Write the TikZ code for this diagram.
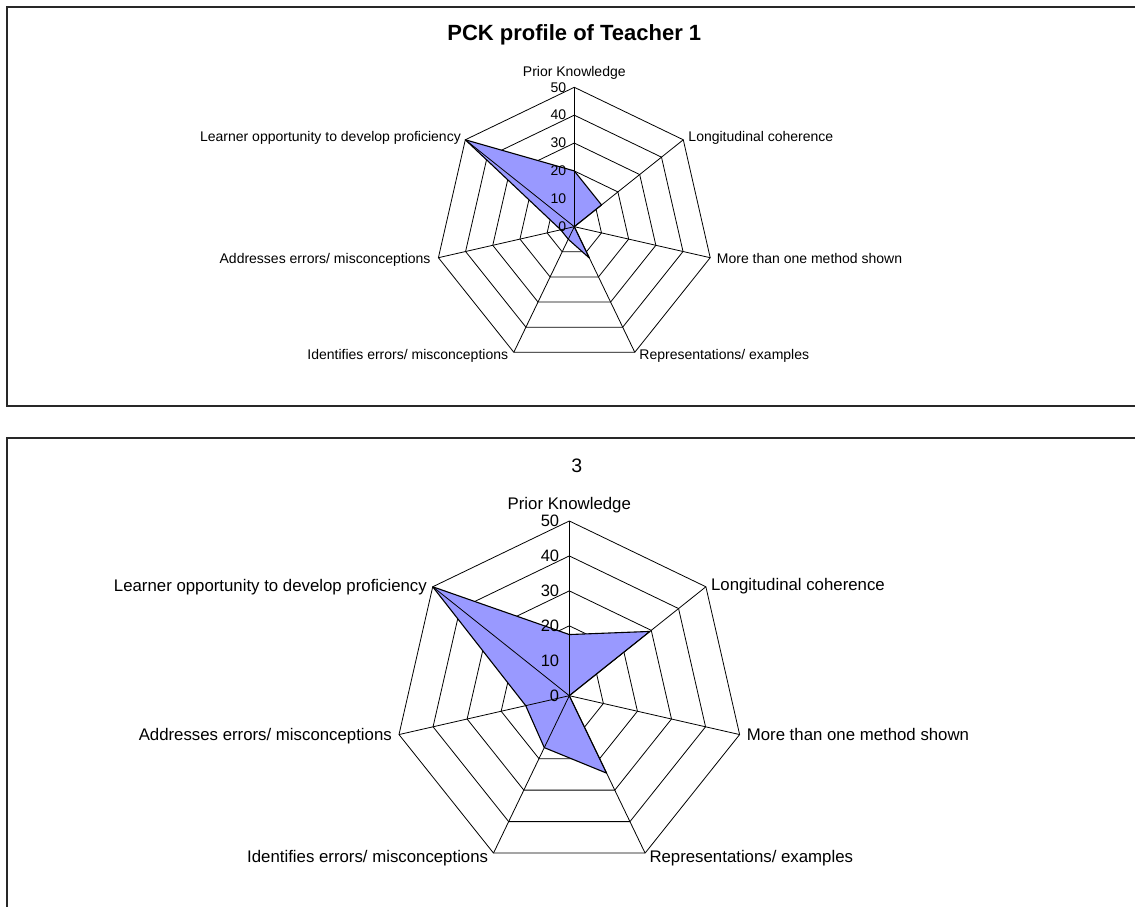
\documentclass[tikz,border=0pt]{standalone}
\usepackage{fontspec}
\setmainfont{Liberation Sans}
\definecolor{serieblue}{RGB}{153,153,255}
\definecolor{framegray}{RGB}{40,40,40}
\begin{document}
\begin{tikzpicture}[x=1pt,y=1pt,
  gridline/.style={black, line width=0.8pt},
  series/.style={fill=serieblue, draw=black, line width=1.1pt, line join=round},
  frameline/.style={draw=framegray, line width=2pt},
  labA/.style={inner sep=0pt, font=\fontsize{14}{16}\selectfont},
  labB/.style={inner sep=0pt, font=\fontsize{16.8}{19}\selectfont},
  numA/.style={inner sep=0pt, anchor=east, font=\fontsize{14}{16}\selectfont},
  numB/.style={inner sep=0pt, anchor=east, font=\fontsize{16.5}{19}\selectfont},
]
\useasboundingbox (0,0) rectangle (1135,907);
\fill[white] (0,0) rectangle (1135,907);
% frames
\draw[frameline] (1140,899.7) -- (6.5,899.7) -- (6.5,501) -- (1140,501);
\draw[frameline] (1140,469.3) -- (6.5,469.3) -- (6.5,-5);

% ---------- chart 1 ----------
\node[font=\bfseries\fontsize{22}{26}\selectfont, inner sep=0pt] (title1) at (574.3,872) {PCK profile of Teacher 1};
\begin{scope}[shift={(574.3pt,680.3pt)}, x=2.788pt, y=2.788pt]
  \foreach \r in {10,20,...,50}
    \draw[gridline] (90:\r) \foreach \k in {1,...,6}{ -- (90-\k*360/7:\r)} -- cycle;
  \filldraw[series] (90:20) -- (90-360/7:12.5) -- (0,0) -- (90-3*360/7:12.5)
     -- (90-4*360/7:5) -- (90-5*360/7:5) -- (90-6*360/7:50) -- cycle;
  \foreach \k in {0,...,6}
    \draw[gridline] (0,0) -- (90-\k*360/7:50) coordinate (a\k);
  \foreach \v in {0,10,...,50}
    \node[numA] (an\v) at ([xshift=-8pt]0,\v) {\v};
  \node[labA, anchor=base] (al0) at ([yshift=10.6pt]a0) {Prior Knowledge};
  \node[labA, anchor=base west] (al1) at ([xshift=5pt,yshift=-1.9pt]a1) {Longitudinal coherence};
  \node[labA, anchor=base west] (al2) at ([xshift=6.5pt,yshift=-5.6pt]a2) {More than one method shown};
  \node[labA, anchor=base west] (al3) at ([xshift=4.5pt,yshift=-7.7pt]a3) {Representations/ examples};
  \node[labA, anchor=base east] (al4) at ([xshift=-5.5pt,yshift=-7.7pt]a4) {Identifies errors/ misconceptions};
  \node[labA, anchor=base east] (al5) at ([xshift=-7.7pt,yshift=-5.6pt]a5) {Addresses errors/ misconceptions};
  \node[labA, anchor=base east] (al6) at ([xshift=-4.3pt,yshift=-1.9pt]a6) {Learner opportunity to develop proficiency};
\end{scope}

% ---------- chart 2 ----------
\node[font=\fontsize{19.5}{23}\selectfont, inner sep=0pt] (title2) at (576.7,441.3) {3};
\begin{scope}[shift={(569.3pt,211.3pt)}, x=3.494pt, y=3.494pt]
  \foreach \r in {10,20,...,50}
    \draw[gridline] (90:\r) \foreach \k in {1,...,6}{ -- (90-\k*360/7:\r)} -- cycle;
  \filldraw[series] (90:17.5) -- (90-360/7:29.5) -- (0,0) -- (90-3*360/7:24.6)
     -- (90-4*360/7:16.5) -- (90-5*360/7:12.8) -- (90-6*360/7:50) -- cycle;
  \foreach \k in {0,...,6}
    \draw[gridline] (0,0) -- (90-\k*360/7:50) coordinate (b\k);
  \foreach \v in {0,10,...,50}
    \node[numB] (bn\v) at ([xshift=-10pt]0,\v) {\v};
  \node[labB, anchor=base] (bl0) at ([yshift=11.7pt]b0) {Prior Knowledge};
  \node[labB, anchor=base west] (bl1) at ([xshift=5pt,yshift=-4.2pt]b1) {Longitudinal coherence};
  \node[labB, anchor=base west] (bl2) at ([xshift=7pt,yshift=-6.4pt]b2) {More than one method shown};
  \node[labB, anchor=base west] (bl3) at ([xshift=4.2pt,yshift=-9.6pt]b3) {Representations/ examples};
  \node[labB, anchor=base east] (bl4) at ([xshift=-5.2pt,yshift=-9.6pt]b4) {Identifies errors/ misconceptions};
  \node[labB, anchor=base east] (bl5) at ([xshift=-7pt,yshift=-6.4pt]b5) {Addresses errors/ misconceptions};
  \node[labB, anchor=base east] (bl6) at ([xshift=-5.7pt,yshift=-5.2pt]b6) {Learner opportunity to develop proficiency};
\end{scope}
\end{tikzpicture}
\end{document}
